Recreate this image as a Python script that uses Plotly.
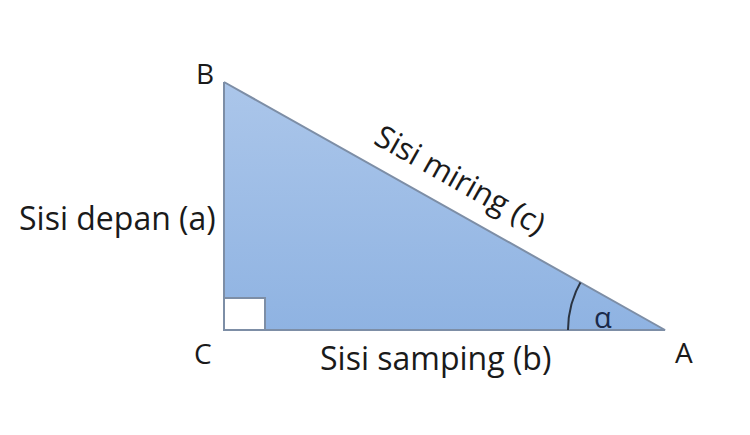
import numpy as np
import plotly.graph_objects as go

# Triangle vertices (diagram coordinates, y grows downward)
vertex_names = ["B", "C", "A"]
vertex_x = [224, 224, 665]
vertex_y = [82, 330, 330]

# Right-angle marker size and angle arc radius
square_w = 41
square_h = 32
arc_radius = 97

# Side labels
side_labels = ["Sisi depan (a)", "Sisi samping (b)", "Sisi miring (c)"]
angle_label = "α"

font_family = "Open Sans, Lato, sans-serif"
font_size = 32
edge_color = "#7d8ea6"
text_color = "#1a1a1a"

fig = go.Figure()

Bx, Cx, Ax = vertex_x
By, Cy, Ay = vertex_y

# Triangle with vertical gradient fill (lighter at top)
fig.add_trace(go.Scatter(
    x=[Bx, Cx, Ax, Bx], y=[By, Cy, Ay, By],
    mode="lines", fill="toself",
    fillgradient=dict(type="vertical",
                      colorscale=[[0, "#8fb3e2"], [1, "#abc6ea"]]),
    line=dict(color=edge_color, width=2),
    hoverinfo="skip", showlegend=False))

# Right angle square
fig.add_trace(go.Scatter(
    x=[Cx, Cx, Cx + square_w, Cx + square_w, Cx],
    y=[Cy, Cy - square_h, Cy - square_h, Cy, Cy],
    mode="lines", fill="toself", fillcolor="white",
    line=dict(color=edge_color, width=2),
    hoverinfo="skip", showlegend=False))

# Angle arc at A
alpha = np.arctan2(Ay - By, Ax - Bx)
t = np.linspace(0, alpha, 30)
fig.add_trace(go.Scatter(
    x=Ax - arc_radius * np.cos(t), y=Ay - arc_radius * np.sin(t),
    mode="lines", line=dict(color="#2a3340", width=2),
    hoverinfo="skip", showlegend=False))

# Vertex labels
label_offsets = {"B": (-19, -9), "C": (-21, 23), "A": (19, 22)}
for name, x, y in zip(vertex_names, vertex_x, vertex_y):
    dx, dy = label_offsets[name]
    fig.add_annotation(x=x + dx, y=y + dy, text=name, showarrow=False,
                       font=dict(family=font_family, size=font_size - 4, color=text_color))

# Side labels
fig.add_annotation(x=117, y=217, text=side_labels[0], showarrow=False,
                   font=dict(family=font_family, size=font_size, color=text_color))
fig.add_annotation(x=435, y=357, text=side_labels[1], showarrow=False,
                   font=dict(family=font_family, size=font_size, color=text_color))
fig.add_annotation(x=461, y=179, text=side_labels[2], showarrow=False,
                   textangle=float(np.degrees(alpha)),
                   font=dict(family=font_family, size=font_size - 1, color=text_color))
fig.add_annotation(x=603, y=316, text=angle_label, showarrow=False,
                   font=dict(family=font_family, size=font_size - 3, color="#1a2a4a"))

# Page body has an 8px margin; shift axis ranges so data units equal window pixels
fig.update_layout(
    width=750, height=435,
    margin=dict(l=0, r=0, t=0, b=0),
    paper_bgcolor="white", plot_bgcolor="white",
    xaxis=dict(range=[8, 758], visible=False, fixedrange=True),
    yaxis=dict(range=[443, 8], visible=False, fixedrange=True),
)

fig.write_html("out.html")
